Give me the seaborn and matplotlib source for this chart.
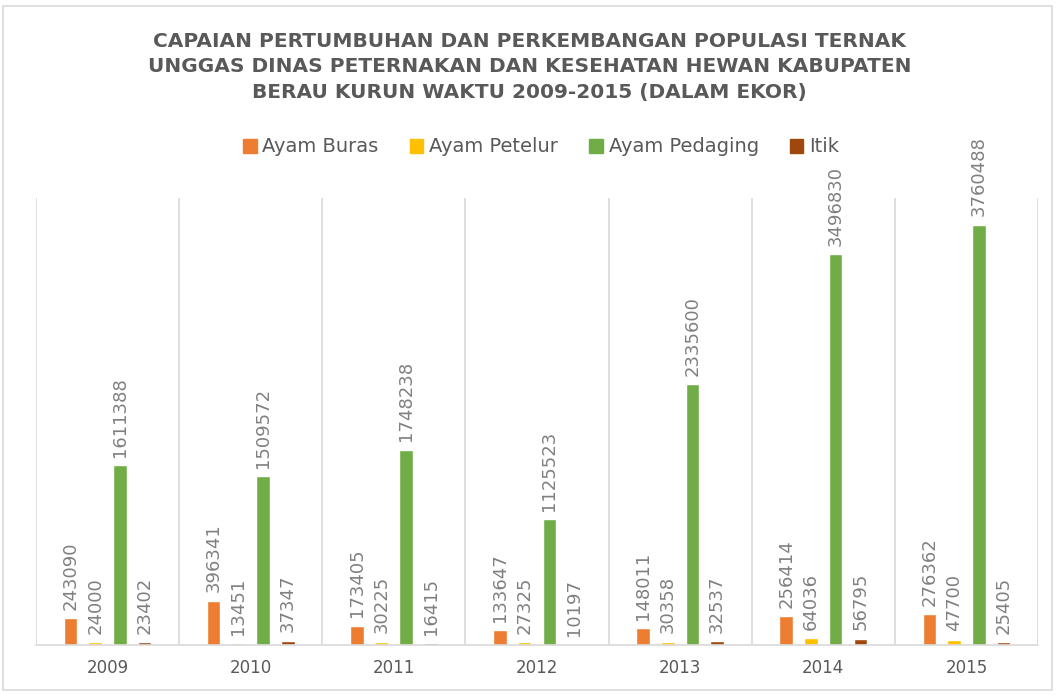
import matplotlib
matplotlib.use("Agg")
import matplotlib.pyplot as plt
import seaborn as sns
import pandas as pd
from matplotlib.patches import Rectangle

years = ["2009", "2010", "2011", "2012", "2013", "2014", "2015"]
series = ["Ayam Buras", "Ayam Petelur", "Ayam Pedaging", "Itik"]
ayam_buras = [243090, 396341, 173405, 133647, 148011, 256414, 276362]
ayam_petelur = [24000, 13451, 30225, 27325, 30358, 64036, 47700]
ayam_pedaging = [1611388, 1509572, 1748238, 1125523, 2335600, 3496830, 3760488]
itik = [23402, 37347, 16415, 10197, 32537, 56795, 25405]
colors = ["#ED7D31", "#FFC000", "#70AD47", "#9E480E"]
title = ("CAPAIAN PERTUMBUHAN DAN PERKEMBANGAN POPULASI TERNAK\n"
         "UNGGAS DINAS PETERNAKAN DAN KESEHATAN HEWAN KABUPATEN\n"
         "BERAU KURUN WAKTU 2009-2015 (DALAM EKOR)")

rows = []
for name, vals in zip(series, [ayam_buras, ayam_petelur, ayam_pedaging, itik]):
    for y, v in zip(years, vals):
        rows.append({"Tahun": y, "Jenis": name, "Jumlah": v})
df = pd.DataFrame(rows)

sns.set_theme(style="white")
plt.rcParams['font.family'] = ['DejaVu Sans']

fig = plt.figure(figsize=(10.59, 6.95), dpi=100)
ax = fig.add_axes([36/1059, 50/695, (1038-36)/1059, (645-198)/695])

sns.barplot(data=df, x="Tahun", y="Jumlah", hue="Jenis", order=years,
            hue_order=series, palette=colors, width=0.69, gap=0.45,
            saturation=1, ax=ax, legend=False)

for cont in ax.containers:
    ax.bar_label(cont, fmt="{:.0f}", rotation=90, padding=6,
                 color="#808080", fontsize=13)

ax.set_xlim(-0.5, 6.5)
ax.set_ylim(0, 4000000)
ax.set_xlabel("")
ax.set_ylabel("")
ax.set_yticks([])
ax.set_xticks(range(len(years)))
ax.set_xticklabels(years, fontsize=12, color="#595959")
ax.set_xticks([i - 0.5 for i in range(len(years) + 1)], minor=True)
ax.tick_params(axis="x", which="both", length=0, pad=10)
ax.grid(axis="x", which="minor", color="#d9d9d9", linewidth=1.2)
ax.grid(axis="x", which="major", visible=False)
for s in ["top", "left", "right"]:
    ax.spines[s].set_visible(False)
ax.spines["bottom"].set_color("#d9d9d9")
ax.spines["bottom"].set_linewidth(1.2)

fig.text(0.5, 1 - 67/695, title, ha="center", va="center", fontsize=14.5,
         fontweight="bold", color="#595959", linespacing=1.42)

handles = [Rectangle((0, 0), 1, 1, color=c) for c in colors]
fig.legend(handles, series, loc="center", bbox_to_anchor=(0.511, 1 - 147/695),
           ncol=4, frameon=False, fontsize=14, labelcolor="#595959",
           handlelength=0.7, handleheight=0.7, handletextpad=0.3,
           columnspacing=1.6)

fig.patches.append(Rectangle((3/1059, 5/695), 1049/1059, 684/695,
                             transform=fig.transFigure, fill=False,
                             edgecolor="#d9d9d9", linewidth=1.2))

fig.savefig("out.png", dpi=100)
